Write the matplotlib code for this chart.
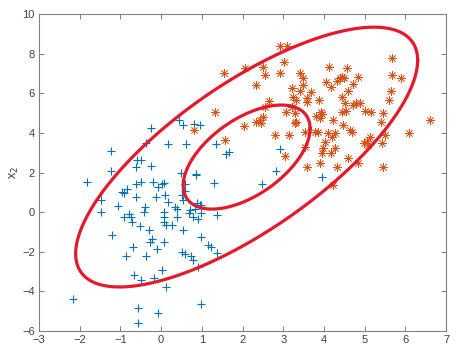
import matplotlib
matplotlib.use("Agg")
import matplotlib.pyplot as plt
import numpy as np

plt.rcParams["font.family"] = ["Liberation Sans", "DejaVu Sans"]

# class 1 (blue +)
x1_blue = [-1.22, -1.22, -0.63, -0.49, -0.59, -0.26, -0.26, -0.37, 0.18, 0.60,
           0.44, 0.54, 0.80, 0.96, 1.35, 1.59, 1.67, 0.48, 0.85, -1.83,
           -1.48, -1.48, -1.21, -1.07, -0.97, -0.92, -0.84, -0.92, -0.78, -0.74,
           -0.72, -0.62, -0.49, -0.62, -0.40, -0.41, -0.53, -0.21, -0.08, 0.02,
           0.08, -0.12, 0.10, 0.16, 0.08, 0.06, 0.08, 0.12, -0.29, -0.27,
           -0.22, 0.07, -0.10, -0.68, -0.86, -0.37, 0.26, 0.33, 0.40, 0.53,
           0.53, 0.58, 0.82, 0.78, 0.90, 0.86, 0.99, 0.99, 0.99, 0.52,
           0.58, 0.74, 0.78, 1.15, 1.23, 1.38, 1.38, 1.29, 0.90, -0.67,
           -0.49, -0.18, 0.02, 0.12, -2.16, -0.56, -0.08, -0.58, 0.97, 2.48,
           2.82, 3.96, 2.91, 0.52, 0.59, 0.89, 0.96, 0.72, 0.69, 0.40]
x2_blue = [3.10, 2.07, 2.29, 2.63, 2.63, 2.34, 4.26, 3.47, 3.43, 3.43,
           4.65, 4.39, 4.44, 4.39, 3.43, 2.93, 3.05, 1.97, 1.92, 1.51,
           0.59, 0.00, -1.14, 0.30, 1.00, 0.96, 1.17, -0.25, -0.08, -0.25,
           -0.50, 1.43, 1.51, 0.75, 0.25, 0.00, -0.72, 1.51, 1.26, 1.43,
           1.46, 0.75, 0.84, 0.50, 0.00, -0.25, -0.50, -0.67, -0.92, -1.51,
           -1.34, -1.51, -1.85, -1.76, -2.20, -2.20, -0.67, 0.25, 0.17, -0.89,
           0.59, 1.43, 0.17, -0.25, -0.34, 1.85, -0.05, 0.34, -1.26, -2.01,
           -2.10, -2.23, -2.40, -1.68, -1.76, -2.06, -0.12, 1.46, -2.77, -3.15,
           -3.41, -3.32, -2.94, -3.78, -4.36, -4.82, -5.08, -5.62, -4.65, 1.43,
           2.10, 1.76, 3.18, 0.86, 1.06, 0.44, 0.35, 0.12, -0.05, -0.24]

# class 2 (orange *)
x1_orange = [1.55, 1.32, 0.80, 1.57, 4.23, 2.04, 2.33, 2.43, 2.46, 2.50,
             2.80, 3.13, 3.03, 2.07, 2.32, 2.50, 2.54, 2.93, 3.10, 3.02,
             2.91, 3.40, 3.49, 3.49, 3.22, 3.40, 3.24, 3.32, 2.66, 3.07,
             3.28, 3.30, 5.68, 5.68, 5.90, 5.65, 5.60, 4.12, 4.57, 4.84,
             4.39, 4.43, 4.50, 4.33, 4.06, 4.17, 4.70, 4.58, 3.69, 3.59,
             3.87, 4.43, 4.51, 4.72, 4.78, 4.88, 4.43, 4.53, 5.01, 5.16,
             5.46, 3.92, 6.61, 6.09, 5.40, 5.50, 5.42, 5.13, 5.05, 4.97,
             5.09, 4.68, 4.64, 4.47, 4.23, 4.27, 4.10, 4.19, 3.86, 3.77,
             3.54, 4.02, 4.27, 3.98, 3.94, 4.17, 4.60, 4.83, 3.90, 3.57,
             4.31, 5.44, 3.94, 3.81, 3.90, 3.59, 3.28, 2.56, 3.21, 3.54]
x2_orange = [7.00, 5.07, 4.14, 3.64, 1.39, 4.34, 4.56, 4.65, 4.48, 4.81,
             3.89, 3.89, 2.84, 7.26, 6.41, 7.34, 6.92, 8.40, 8.40, 7.56,
             7.00, 7.00, 6.75, 6.41, 6.25, 6.11, 5.82, 5.66, 5.60, 5.07,
             4.98, 4.53, 7.76, 6.92, 6.75, 6.11, 5.66, 7.34, 7.26, 6.83,
             6.75, 6.83, 6.75, 6.62, 6.58, 6.33, 6.45, 6.11, 6.08, 5.74,
             5.66, 5.82, 5.49, 5.40, 5.49, 5.49, 5.07, 5.10, 5.10, 5.07,
             4.98, 5.07, 4.65, 4.02, 4.56, 3.89, 3.50, 3.77, 3.60, 3.50,
             3.38, 4.06, 4.14, 4.39, 4.65, 3.97, 3.97, 3.80, 4.06, 4.06,
             4.06, 3.55, 3.22, 3.22, 3.00, 2.97, 2.71, 2.46, 2.46, 2.29,
             2.29, 2.26, 4.95, 4.85, 4.73, 5.57, 4.48, 5.32, 5.32, 3.30]

# ellipses: center and shape matrix (x'A^-1 x = 1)
ell_center = [2.10, 2.78]
outer_A = [[17.64, 20.5], [20.5, 43.0]]
inner_A = [[2.43, 2.24], [2.24, 6.90]]


def ellipse_xy(c, A, n=400):
    t = np.linspace(0, 2 * np.pi, n)
    L = np.linalg.cholesky(np.array(A))
    pts = L @ np.vstack([np.cos(t), np.sin(t)])
    return pts[0] + c[0], pts[1] + c[1]


fig = plt.figure(figsize=(4.59, 3.51), dpi=100)
ax = fig.add_axes([0.085, 0.057, 0.887, 0.903])

ax.plot(x1_blue, x2_blue, '+', color='#0072BD', markersize=6, markeredgewidth=0.8)
ax.plot(x1_orange, x2_orange, linestyle='none', marker=(8, 2, 0), color='#D95319',
        markersize=6, markeredgewidth=0.55)

for A in (outer_A, inner_A):
    ex, ey = ellipse_xy(ell_center, A)
    ax.plot(ex, ey, color='#E41A2A', linewidth=2.3)

ax.set_xlim(-3, 7)
ax.set_ylim(-6, 10)
ax.set_xticks(np.arange(-3, 8, 1))
ax.set_yticks(np.arange(-6, 11, 2))
ax.tick_params(direction='in', top=True, right=True, length=3.5, width=0.7,
               colors='#808080', labelcolor='#404040', labelsize=8, pad=3)
for s in ax.spines.values():
    s.set_color('#808080')
    s.set_linewidth(0.8)

ax.set_ylabel('x$_2$', fontsize=9, color='#404040', labelpad=1)

plt.savefig("out.png", dpi=100)
